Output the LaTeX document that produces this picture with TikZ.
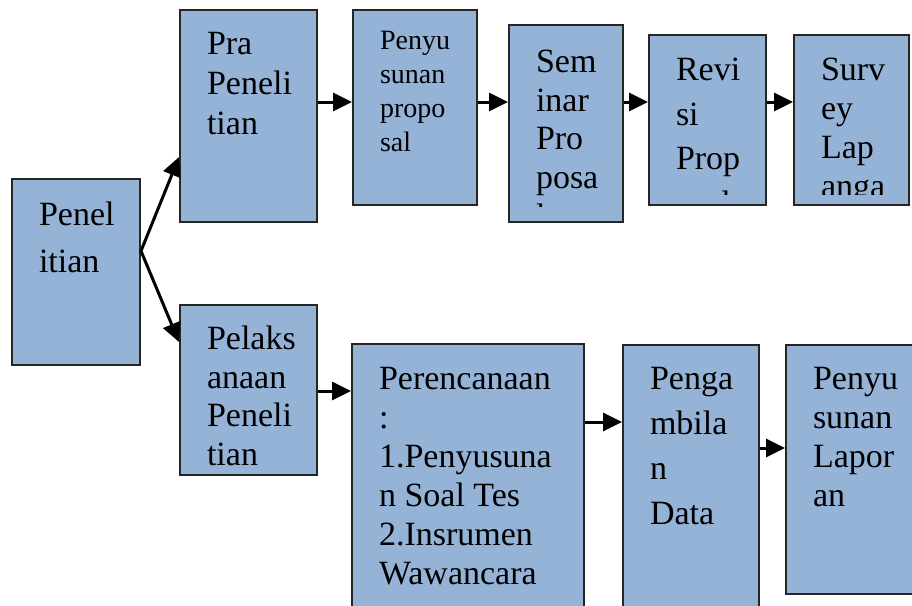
\documentclass[tikz,border=0pt]{standalone}
\usepackage{fontspec}
\setmainfont{Liberation Serif}
\usepackage{xcolor}
\usepackage{tikz}
\usetikzlibrary{positioning, arrows.meta}

\definecolor{boxblue}{RGB}{149,179,215}

% text of a stage box, clipped a little above the bottom edge
\newcommand{\stagetext}[5][34pt]{%
  \clip ([yshift=#4]path picture bounding box.south west) rectangle (path picture bounding box.north east);
  \node[txt, font=\fontsize{#1}{#2}\selectfont] at ([shift={(26pt,-#3)}]path picture bounding box.north west) {#5};}

\begin{document}
\begin{tikzpicture}[
        x=1pt, y=1pt,
        stage/.style={draw=black!85, line width=2pt, fill=boxblue, inner sep=0pt},
        txt/.style={anchor=north west, align=left, inner sep=0pt, draw=none, fill=none,
                     minimum width=0pt, minimum height=0pt, text=black},
        arrow/.style={-{Triangle[length=19pt, width=18pt]}, line width=3pt, black}
    ]
    \useasboundingbox (0,0) rectangle (912,-605);

    % Nodes
    \node[stage, anchor=north west, minimum width=128pt, minimum height=186pt,
          path picture={\stagetext{47pt}{22pt}{11pt}{Penel\\itian}}] (penelitian) at (11,-178) {};

    \node[stage, anchor=north west, minimum width=137pt, minimum height=212pt,
          path picture={\stagetext{40pt}{21pt}{11pt}{Pra\\Peneli\\tian}}] (pra) at (179,-9) {};
    \node[stage, anchor=north west, minimum width=137pt, minimum height=170pt,
          path picture={\stagetext{38.5pt}{20pt}{6pt}{Pelaks\\anaan\\Peneli\\tian}}] (pelak) at (179,-304) {};

    % top row
    \node[stage, right=34pt of pra.north east, anchor=north west, minimum width=124pt, minimum height=195pt,
          path picture={\stagetext[28pt]{34pt}{20pt}{11pt}{Penyu\\sunan\\propo\\sal}}] (penyusun) {};
    \node[stage, right=30pt of penyusun.north east, anchor=north west, yshift=-15pt,
          minimum width=114pt, minimum height=197pt,
          path picture={\stagetext{38.7pt}{24pt}{16pt}{Sem\\inar\\Pro\\posa\\l}}] (seminar) {};
    \node[stage, right=24pt of seminar.north east, anchor=north west, yshift=-10pt,
          minimum width=117pt, minimum height=170pt,
          path picture={\stagetext{44.5pt}{22pt}{11pt}{Revi\\si\\Prop\\osal}}] (revisi) {};
    \node[stage, right=26pt of revisi.north east, anchor=north west, minimum width=115pt, minimum height=170pt,
          path picture={\stagetext{39pt}{22pt}{11pt}{Surv\\ey\\Lap\\anga}}] (survey) {};

    % bottom row
    \node[stage, right=33pt of pelak.north east, anchor=north west, yshift=-39pt,
          minimum width=232pt, minimum height=300pt,
          path picture={\stagetext{39pt}{22pt}{11pt}{Perencanaan\\:\\1.Penyusuna\\n Soal Tes\\2.Insrumen\\Wawancara}}] (perenc) {};
    \node[stage, right=37pt of perenc.north east, anchor=north west, yshift=-1pt,
          minimum width=136pt, minimum height=300pt,
          path picture={\stagetext{45pt}{21pt}{11pt}{Penga\\mbila\\n\\Data}}] (pengamb) {};
    \node[stage, right=25pt of pengamb.north east, anchor=north west, minimum width=150pt, minimum height=249pt,
          path picture={\stagetext{39pt}{21pt}{11pt}{Penyu\\sunan\\Lapor\\an}}] (laporan) {};

    % Arrows
    \coordinate (fork) at ([yshift=21pt]penelitian.east);
    \coordinate (toprow) at (0,-102);
    \coordinate (lowA) at (0,-391);
    \coordinate (lowB) at (0,-422);
    \coordinate (lowC) at (0,-448);

    \draw[arrow] (fork) -- ([yshift=66pt]pra.south west);
    \draw[arrow] (fork) -- ([yshift=-38pt]pelak.north west);

    \draw[arrow] (pra.east |- toprow) -- (penyusun.west |- toprow);
    \draw[arrow] (penyusun.east |- toprow) -- (seminar.west |- toprow);
    \draw[arrow] (seminar.east |- toprow) -- (revisi.west |- toprow);
    \draw[arrow] (revisi.east |- toprow) -- (survey.west |- toprow);

    \draw[arrow] (pelak.east |- lowA) -- (perenc.west |- lowA);
    \draw[arrow] (perenc.east |- lowB) -- (pengamb.west |- lowB);
    \draw[arrow] (pengamb.east |- lowC) -- (laporan.west |- lowC);

\end{tikzpicture}
\end{document}
